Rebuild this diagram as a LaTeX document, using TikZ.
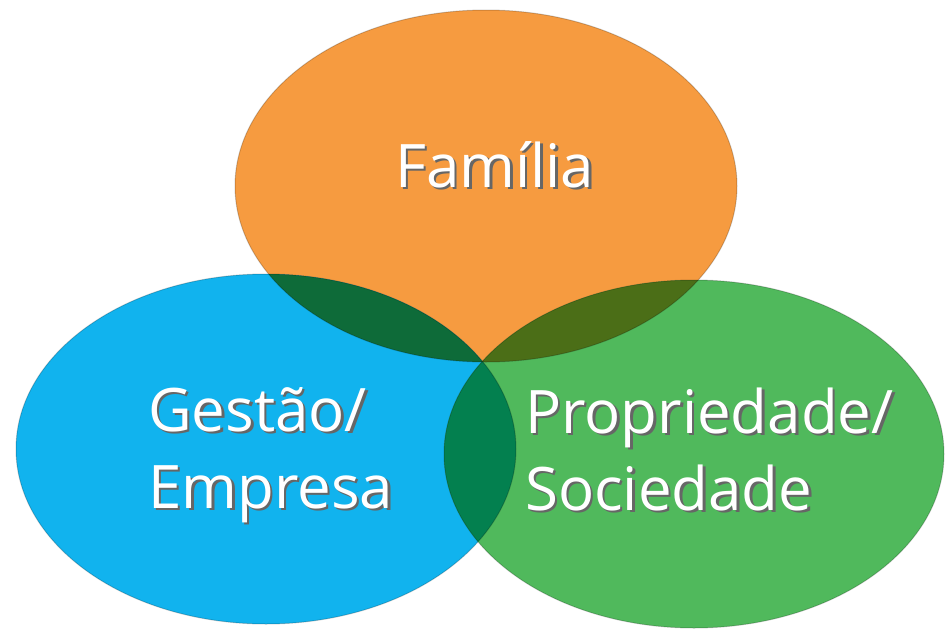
\documentclass[tikz,border=0pt]{standalone}
\usepackage{fontspec}
\setmainfont{Open Sans}
\usepackage{xcolor}
\usepackage{tikz}
\usetikzlibrary{positioning}
\definecolor{familyorange}{RGB}{246,155,64}
\definecolor{gestaoblue}{RGB}{17,179,238}
\definecolor{propgreen}{RGB}{80,185,92}
\definecolor{famgestao}{RGB}{14,107,57}
\definecolor{famprop}{RGB}{75,110,23}
\definecolor{gestaoprop}{RGB}{3,128,79}
\newcommand{\familyset}{(486,186) ellipse [x radius=251, y radius=176]}
\newcommand{\gestaoset}{(266,449) ellipse [x radius=250, y radius=175]}
\newcommand{\propset}{(694,454) ellipse [x radius=250, y radius=174]}
\newcommand{\shadowed}[1]{\makebox[0pt][l]{\hspace{2.5pt}\raisebox{-2.5pt}{\color{black!60}#1}}#1}

\begin{document}
\begin{tikzpicture}[x=1pt, y=-1pt,
    setlabel/.style={text=white, font=\fontsize{60}{77}\selectfont, align=left, inner sep=0pt},
    rim/.style={draw=black, draw opacity=0.2, line width=1pt}]
    \useasboundingbox (0,0) rectangle (946,629);

    % Sets
    \fill[familyorange] \familyset;
    \fill[gestaoblue] \gestaoset;
    \fill[propgreen] \propset;

    % Overlaps
    \begin{scope}
        \clip \familyset;
        \fill[famgestao] \gestaoset;
        \fill[famprop] \propset;
    \end{scope}
    \begin{scope}
        \clip \gestaoset;
        \fill[gestaoprop] \propset;
    \end{scope}

    % Outlines
    \draw[rim] \familyset;
    \draw[rim] \gestaoset;
    \draw[rim] \propset;

    % Labels (base = last line)
    \node[setlabel, anchor=base west] (familia) at (395,187) {\shadowed{Família}};
    \node[setlabel, anchor=base west] (gestao) at (148,508) {\shadowed{Gestão/}\\\shadowed{Empresa}};
    \node[setlabel, anchor=base west] (propriedade) at (525,510) {\shadowed{Propriedade/}\\\shadowed{Sociedade}};
\end{tikzpicture}
\end{document}
